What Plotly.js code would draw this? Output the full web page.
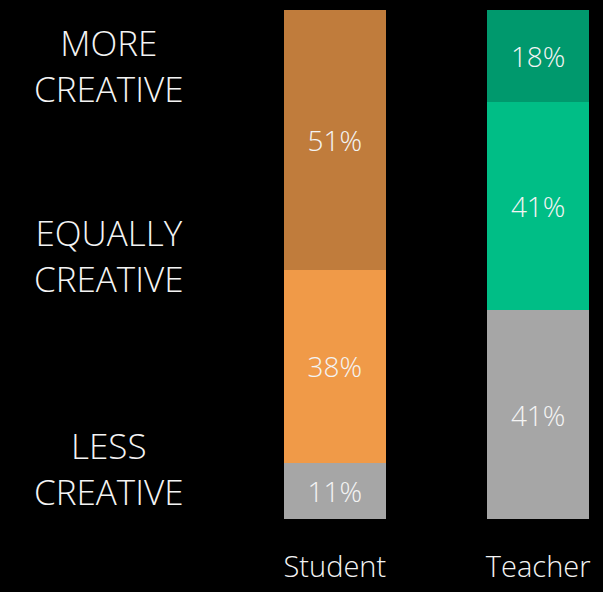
<!DOCTYPE html>
<html>
<head>
<meta charset="utf-8">
<script src="https://cdn.plot.ly/plotly-3.0.1.min.js"></script>
<style>html,body{margin:0;padding:0;background:#000;}#chart{width:603px;height:592px;}</style>
</head>
<body>
<div id="chart"></div>
<script>
const categories = ["Student", "Teacher"];
const lessCreative = [11, 41];
const equallyCreative = [38, 41];
const moreCreative = [51, 18];
const rowLabels = ["MORE<br>CREATIVE", "EQUALLY<br>CREATIVE", "LESS<br>CREATIVE"];

const palette = {
  less: ["#A6A6A6", "#A6A6A6"],
  equally: ["#F09A48", "#00BE86"],
  more: ["#C07C3C", "#00996D"]
};
const FONT = "'Open Sans', 'Noto Sans', sans-serif";
const txtFont = {family: FONT, size: 28, color: "#F4F4F4", weight: 300};

function bar(name, vals, colors) {
  return {
    type: "bar", name: name, x: categories, y: vals,
    width: 0.5,
    marker: {color: colors, line: {width: 0}},
    texttemplate: "%{y}%", textposition: "inside", insidetextanchor: "middle",
    textangle: 0, textfont: txtFont, hoverinfo: "skip"
  };
}

const data = [
  bar("Less creative", lessCreative, palette.less),
  bar("Equally creative", equallyCreative, palette.equally),
  bar("More creative", moreCreative, palette.more)
];

const labelY = [89, 51.7, 10];
const annotations = rowLabels.map((t, i) => ({
  text: t, xref: "paper", yref: "y", x: -0.575, y: labelY[i],
  xanchor: "center", yanchor: "middle", showarrow: false,
  font: {family: FONT, size: 35, color: "#F4F4F4", weight: 300}, align: "center"
}));

const layout = {
  width: 603, height: 592,
  paper_bgcolor: "#000", plot_bgcolor: "#000",
  margin: {l: 284, r: 14, t: 10, b: 73},
  barmode: "stack", showlegend: false,
  uniformtext: {mode: false},
  xaxis: {range: [-0.25, 1.25], showgrid: false, zeroline: false, showline: false,
    ticks: "outside", ticklen: 22, tickcolor: "rgba(0,0,0,0)",
    tickfont: {family: FONT, size: 29, color: "#F4F4F4", weight: 300}, fixedrange: true},
  yaxis: {range: [0, 100], visible: false, fixedrange: true},
  annotations: annotations
};

Plotly.newPlot("chart", data, layout, {displayModeBar: false, staticPlot: true});
</script>
</body>
</html>
